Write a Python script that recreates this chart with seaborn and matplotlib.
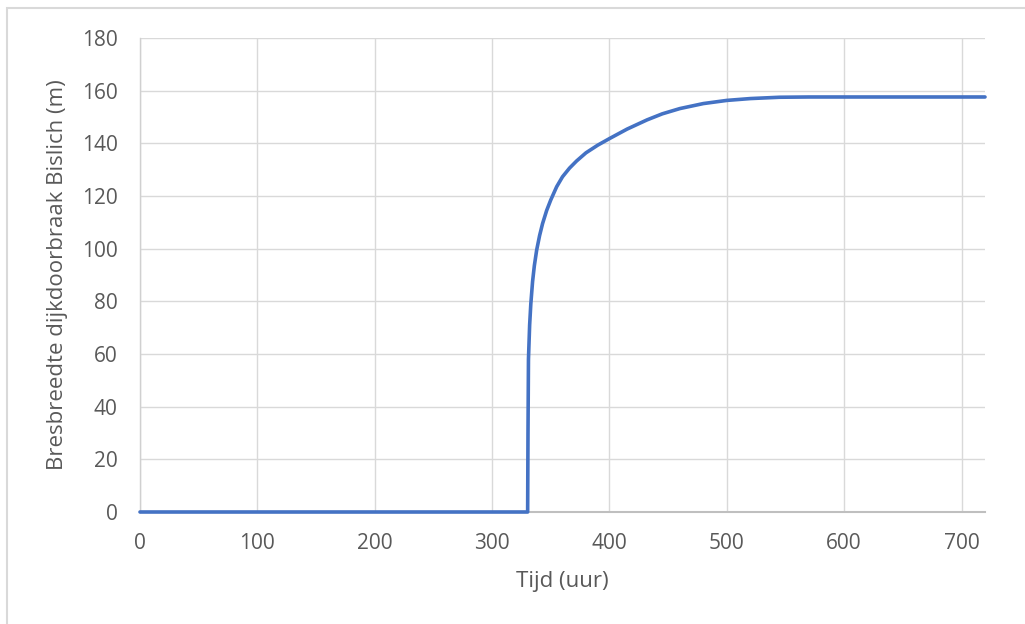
import matplotlib
matplotlib.use("Agg")
import matplotlib.pyplot as plt
from matplotlib.patches import Rectangle
import seaborn as sns
import pandas as pd

# Breach width of the Bislich dike over time
tijd = [0, 330.3, 330.6, 331, 332, 333, 334.5, 336, 338, 340.5, 343, 346.5,
        350, 355, 360, 366, 372, 380, 390, 400, 415, 432, 445, 460, 480, 500,
        520, 545, 570, 600, 650, 720]
bresbreedte = [0, 0, 30, 58, 71, 79, 87.5, 93.5, 99.5, 105, 109.5, 114.5,
               118.5, 123.5, 127.3, 130.6, 133.3, 136.4, 139.3, 141.8, 145.4,
               148.9, 151.2, 153.2, 155.1, 156.3, 157.0, 157.5, 157.6, 157.6,
               157.6, 157.6]

x_ticks = [0, 100, 200, 300, 400, 500, 600, 700]
y_ticks = [0, 20, 40, 60, 80, 100, 120, 140, 160, 180]

df = pd.DataFrame({"Tijd (uur)": tijd, "Bresbreedte": bresbreedte})

sns.set_theme(style="whitegrid")
plt.rcParams["font.family"] = ["Open Sans", "DejaVu Sans"]

fig = plt.figure(figsize=(10.25, 6.24), dpi=100)
ax = fig.add_axes([140 / 1025, 1 - 512 / 624, 845 / 1025, 474 / 624])

# Outer chart border
fig.patches.append(Rectangle((7 / 1025, -0.5), 2.0, 1.5 - 8 / 624,
                             transform=fig.transFigure, fill=False,
                             edgecolor="#D9D9D9", linewidth=1.5))

sns.lineplot(data=df, x="Tijd (uur)", y="Bresbreedte", ax=ax,
             color="#4472C4", linewidth=2.6, estimator=None, sort=False,
             clip_on=False, zorder=5)

ax.set_xlim(0, 720)
ax.set_ylim(0, 180)
ax.set_xticks(x_ticks)
ax.set_yticks(y_ticks)
ax.set_xticklabels([str(v) for v in x_ticks])
ax.set_yticklabels([str(v) for v in y_ticks])

ax.grid(True, color="#D9D9D9", linewidth=1.0)
ax.set_facecolor("white")
for side in ["top", "right"]:
    ax.spines[side].set_visible(False)
ax.spines["left"].set_color("#D0D0D0")
ax.spines["left"].set_linewidth(1.0)
ax.spines["bottom"].set_color("#BFBFBF")
ax.spines["bottom"].set_linewidth(1.5)

ax.tick_params(axis="both", length=0, labelsize=15, labelcolor="#595959")
ax.tick_params(axis="x", pad=15)
ax.tick_params(axis="y", pad=16)

ax.set_xlabel("Tijd (uur)", fontsize=16, color="#595959")
ax.set_ylabel("Bresbreedte dijkdoorbraak Bislich (m)", fontsize=16,
              color="#595959")
ax.xaxis.set_label_coords((562 - 140) / 845, (512 - 582) / 474)
ax.xaxis.label.set_va("center")
ax.yaxis.set_label_coords((58 - 140) / 845, (512 - 275) / 474)
ax.yaxis.label.set_va("center")

fig.savefig("out.png", dpi=100, facecolor="white")
